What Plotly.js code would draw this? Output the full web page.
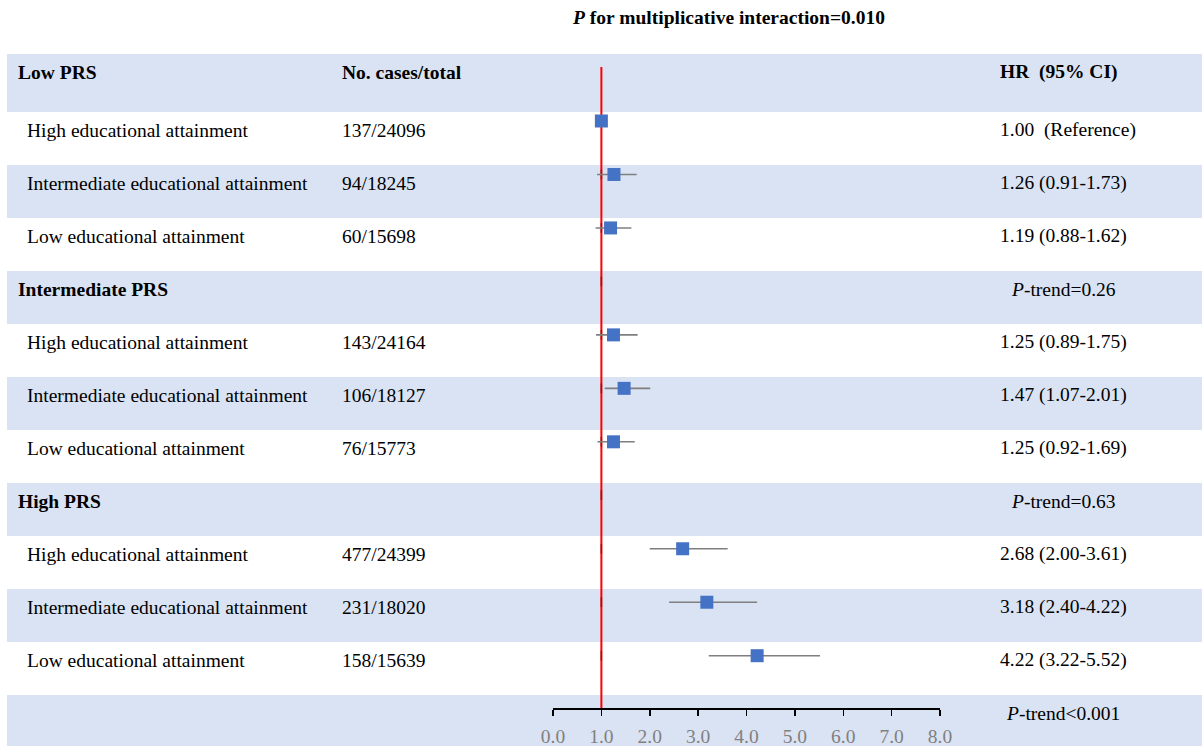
<!DOCTYPE html>
<html>
<head>
<meta charset="utf-8">
<script src="https://cdn.plot.ly/plotly-3.0.1.min.js"></script>
<style>html,body{margin:0;padding:0;background:#fff;}#chart{width:1202px;height:746px;}</style>
</head>
<body>
<div id="chart"></div>
<script>
// ---------------- data ----------------
const rowLabels = [
  'Low PRS',
  'High educational attainment',
  'Intermediate educational attainment',
  'Low educational attainment',
  'Intermediate PRS',
  'High educational attainment',
  'Intermediate educational attainment',
  'Low educational attainment',
  'High PRS',
  'High educational attainment',
  'Intermediate educational attainment',
  'Low educational attainment',
  ''
];
const isHeader = [true,false,false,false,true,false,false,false,true,false,false,false,true];
const casesText = ['No. cases/total','137/24096','94/18245','60/15698','','143/24164','106/18127','76/15773','','477/24399','231/18020','158/15639',''];
const hrText = [
  'HR  (95% CI)',
  '1.00  (Reference)',
  '1.26 (0.91-1.73)',
  '1.19 (0.88-1.62)',
  '<i>P</i>-trend=0.26',
  '1.25 (0.89-1.75)',
  '1.47 (1.07-2.01)',
  '1.25 (0.92-1.69)',
  '<i>P</i>-trend=0.63',
  '2.68 (2.00-3.61)',
  '3.18 (2.40-4.22)',
  '4.22 (3.22-5.52)',
  '<i>P</i>-trend&lt;0.001'
];
const isTrend = [false,false,false,false,true,false,false,false,true,false,false,false,true];
const hr   = [null,1.00,1.26,1.19,null,1.25,1.47,1.25,null,2.68,3.18,4.22,null];
const loCI = [null,1.00,0.91,0.88,null,0.89,1.07,0.92,null,2.00,2.40,3.22,null];
const hiCI = [null,1.00,1.73,1.62,null,1.75,2.01,1.69,null,3.61,4.22,5.52,null];
const refValue = 1;
const xTicks = [0,1,2,3,4,5,6,7,8];
const titleText = '<b><i>P</i> for multiplicative interaction=0.010</b>';

// ---------------- layout geometry ----------------
const W = 1202, H = 746;
const plotTopPx = 54;
const rowPitch = 53, row1TopPx = 112;
const row0Origin = row1TopPx - rowPitch;         // pixel where unit 0 sits
const u = p => (p - row0Origin) / rowPitch;       // pixel -> row units
const mPitch = 53.47, mRow1Px = 121;
const v = p => (p - mRow1Px) / mPitch + 1;        // pixel -> marker units
const axLeftPx = 553, axRightPx = 940, axLinePx = 709;
const py = p => (H - p) / (H - plotTopPx);         // pixel -> paper y

const FONT = 'Liberation Serif';
const FS = 19.5;

const n = rowLabels.length;
const shapes = [];
for (let i = 0; i < n; i += 2) {
  shapes.push({type:'rect', xref:'paper', yref:'y', layer:'below',
    x0: 7/W, x1: 1, y0: i === 0 ? u(plotTopPx) : i, y1: Math.min(i + 1, u(H)),
    fillcolor:'#DAE3F3', line:{width:0}});
}
shapes.push({type:'line', xref:'x', yref:'paper', layer:'below',
  x0: refValue, x1: refValue, y0: py(axLinePx), y1: py(67),
  line:{color:'#FF0000', width:2}});

const annotations = [];
const addText = (xPx, y, text, anchor) => annotations.push({
  xref:'paper', yref:'y', x: xPx / W, y: y, xanchor: anchor || 'left', yanchor:'middle',
  showarrow:false, borderpad:0, borderwidth:0, text: text,
  font:{family:FONT, size:FS, color:'#000'}});
for (let i = 0; i < n; i++) {
  const ty = i === 0 ? u(72) : i + 0.34;
  if (rowLabels[i]) addText(isHeader[i] ? 18 : 27, ty, isHeader[i] ? '<b>' + rowLabels[i] + '</b>' : rowLabels[i]);
  if (casesText[i]) addText(342, ty, i === 0 ? '<b>' + casesText[i] + '</b>' : casesText[i]);
  if (hrText[i]) addText(isTrend[i] ? 1063 : 1000, ty, i === 0 ? '<b>' + hrText[i] + '</b>' : hrText[i], isTrend[i] ? 'center' : 'left');
}
annotations.push({xref:'paper', yref:'paper', x: 728.5 / W, y: py(18), xanchor:'center', yanchor:'middle',
  showarrow:false, borderpad:0, text: titleText, font:{family:FONT, size:FS, color:'#000'}});

const idx = [...Array(n).keys()];
const ciRows = idx.filter(i => hr[i] !== null);
const tickRows = idx.filter(i => i >= 2 && i <= 11);

const traces = [
  { // small dark marks at the reference line
    type:'scatter', mode:'markers', xaxis:'x', yaxis:'y2',
    x: tickRows.map(() => refValue), y: tickRows,
    marker:{symbol:'line-ns', size:7, line:{width:1.5, color:'#7A2020'}},
    hoverinfo:'skip'
  },
  {
    type:'scatter', mode:'markers', xaxis:'x', yaxis:'y2',
    x: ciRows.map(i => hr[i]), y: ciRows,
    error_x:{type:'data', symmetric:false,
      array: ciRows.map(i => hiCI[i] - hr[i]),
      arrayminus: ciRows.map(i => hr[i] - loCI[i]),
      color:'#7F7F7F', thickness:1.6, width:0},
    marker:{symbol:'square', size:13, color:'#4472C4', line:{width:0}},
    hoverinfo:'x'
  }
];

const layout = {
  width: W, height: H,
  margin:{l:0, r:0, t:plotTopPx, b:0, pad:0},
  paper_bgcolor:'#fff', plot_bgcolor:'rgba(0,0,0,0)',
  showlegend:false,
  xaxis:{domain:[axLeftPx/W, axRightPx/W], range:[0,8], anchor:'free',
    position: py(axLinePx),
    tickvals:xTicks, ticktext:xTicks.map(t => t.toFixed(1)),
    ticks:'outside', ticklen:6, tickwidth:1.5, tickcolor:'#000',
    ticklabelstandoff:4,
    showline:true, linecolor:'#000', linewidth:2,
    showgrid:false, zeroline:false, fixedrange:true,
    tickfont:{family:FONT, size:FS, color:'#808080'}},
  yaxis:{range:[u(H), u(plotTopPx)], visible:false, showgrid:false, zeroline:false, fixedrange:true},
  yaxis2:{range:[v(H), v(plotTopPx)], overlaying:'y', visible:false, showgrid:false, zeroline:false, fixedrange:true},
  shapes: shapes,
  annotations: annotations
};

Plotly.newPlot('chart', traces, layout, {displayModeBar:false, staticPlot:true});
</script>
</body>
</html>
